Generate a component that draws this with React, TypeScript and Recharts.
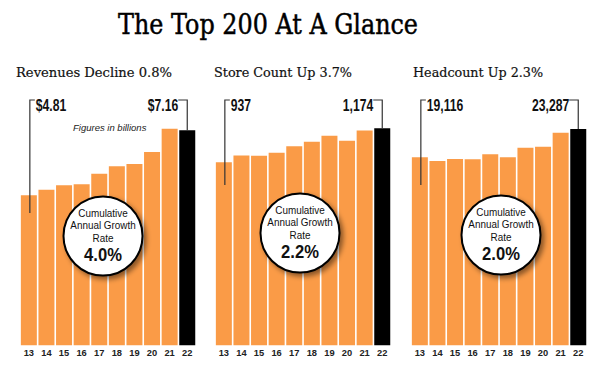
import { Bar, BarChart, Cell, LabelList, XAxis, YAxis } from "recharts";

const years = ["13", "14", "15", "16", "17", "18", "19", "20", "21", "22"];
const revenues = [4.81, 5.01, 5.17, 5.21, 5.59, 5.86, 5.94, 6.38, 7.22, 7.16];
const storeCounts = [937, 984, 982, 1003, 1049, 1080, 1122, 1087, 1158, 1174];
const headcounts = [19116, 18574, 18869, 18824, 19561, 19120, 20534, 20682, 22745, 23287];

const titles = ["Revenues Decline 0.8%", "Store Count Up 3.7%", "Headcount Up 2.3%"];
const growthRates = ["4.0%", "2.2%", "2.0%"];

const ORANGE = "#fa9b47";
const SANS = "'Liberation Sans', Arial, sans-serif";
const SLAB = "'DejaVu Serif', serif";
const CALLOUT_Y = 100;
const SQUEEZE = 0.76;

const panels = [
  {
    values: revenues,
    title: titles[0],
    rate: growthRates[0],
    fmt: (v: number) => "$" + v.toFixed(2),
    domain: [-0.62, 8.256],
    left: 20,
    leftDrop: 213,
    titleX: 16,
    titleW: 156,
    circle: [103, 236],
  },
  {
    values: storeCounts,
    title: titles[1],
    rate: growthRates[1],
    fmt: (v: number) => v.toLocaleString("en-US"),
    domain: [-340, 1371],
    left: 215,
    leftDrop: 185,
    titleX: 214,
    titleW: 138,
    circle: [300, 233],
  },
  {
    values: headcounts,
    title: titles[2],
    rate: growthRates[2],
    fmt: (v: number) => v.toLocaleString("en-US"),
    domain: [-8622, 27561],
    left: 411,
    leftDrop: 185,
    titleX: 413,
    titleW: 130,
    circle: [501, 235],
  },
];

function Callout(props: any, fmt: (v: number) => string, leftDrop: number) {
  const { x, y, width, index, value } = props;
  const cx = x + width / 2;
  const text = fmt(Number(value));
  const font = { fontFamily: SANS, fontWeight: 700, fontSize: 16, fill: "#111" };
  if (index === 0) {
    return (
      <g>
        <polyline
          points={`${cx + 1},${leftDrop} ${cx + 1},${CALLOUT_Y} ${cx + 6},${CALLOUT_Y}`}
          fill="none"
          stroke="#333"
          strokeWidth={1.2}
        />
        <text transform={`translate(${cx + 7},110.5) scale(${SQUEEZE},1)`} {...font}>
          {text}
        </text>
      </g>
    );
  }
  if (index === years.length - 1) {
    return (
      <g>
        <polyline
          points={`${cx - 9},${CALLOUT_Y} ${cx},${CALLOUT_Y} ${cx},${y}`}
          fill="none"
          stroke="#333"
          strokeWidth={1.2}
        />
        <text transform={`translate(${cx - 9},110.5) scale(${SQUEEZE},1)`} textAnchor="end" {...font}>
          {text}
        </text>
      </g>
    );
  }
  return null;
}

function Panel({ p }: { p: (typeof panels)[number] }) {
  const data = years.map((year, i) => ({ year, value: p.values[i] }));
  return (
    <div style={{ position: "absolute", left: p.left, top: 0 }}>
      <BarChart
        width={176}
        height={366}
        data={data}
        margin={{ top: 100, right: 0, bottom: 0, left: 0 }}
        barCategoryGap={0.85}
      >
        <XAxis
          dataKey="year"
          height={20.5}
          interval={0}
          tickLine={false}
          axisLine={false}
          tickSize={2}
          tickMargin={2.3}
          tick={{ fontSize: 9.3, fontWeight: 700, fill: "#222", fontFamily: SANS }}
        />
        <YAxis hide type="number" domain={p.domain} allowDataOverflow />
        <Bar dataKey={(d: any) => [p.domain[0], d.value]} isAnimationActive={false}>
          {data.map((_, i) => (
            <Cell key={i} fill={i === data.length - 1 ? "#000" : ORANGE} />
          ))}
          <LabelList dataKey="value" content={(props: any) => Callout(props, p.fmt, p.leftDrop)} />
        </Bar>
      </BarChart>
    </div>
  );
}

export default function App() {
  return (
    <div
      style={{
        position: "absolute",
        left: 0,
        top: 0,
        width: 600,
        height: 366,
        background: "#fff",
        overflow: "hidden",
      }}
    >
      {panels.map((p, i) => (
        <Panel key={i} p={p} />
      ))}
      <svg width={600} height={366} style={{ position: "absolute", left: 0, top: 0, pointerEvents: "none" }}>
        <defs>
          <filter id="shadow" x="-30%" y="-30%" width="160%" height="160%">
            <feDropShadow dx={3} dy={3} stdDeviation={2.5} floodColor="#000" floodOpacity={0.45} />
          </filter>
        </defs>
        <text
          x={118}
          y={34}
          fontFamily={SLAB}
          fontSize={28}
          fill="#000"
          stroke="#000"
          strokeWidth={0.5}
          textLength={300}
          lengthAdjust="spacingAndGlyphs"
        >
          The Top 200 At A Glance
        </text>
        {panels.map((p, i) => (
          <text
            key={i}
            x={p.titleX}
            y={76.5}
            fontFamily={SLAB}
            fontSize={13}
            fill="#111"
            stroke="#111"
            strokeWidth={0.2}
            textLength={p.titleW}
            lengthAdjust="spacingAndGlyphs"
          >
            {p.title}
          </text>
        ))}
        <text x={73} y={130.5} fontFamily={SANS} fontStyle="italic" fontSize={9.5} fill="#222">
          Figures in billions
        </text>
        {panels.map((p, i) => {
          const [cx, cy] = p.circle;
          return (
            <g key={i}>
              <circle cx={cx} cy={cy} r={39.5} fill="#fff" stroke="#000" strokeWidth={2} filter="url(#shadow)" />
              <g fontFamily={SANS} fill="#111" textAnchor="middle">
                <text transform={`translate(${cx},${cy - 19.5}) scale(0.84,1)`} fontSize={11.8}>
                  Cumulative
                </text>
                <text transform={`translate(${cx},${cy - 7}) scale(0.84,1)`} fontSize={11.8}>
                  Annual Growth
                </text>
                <text transform={`translate(${cx},${cy + 5.5}) scale(0.84,1)`} fontSize={11.8}>
                  Rate
                </text>
                <text transform={`translate(${cx},${cy + 25}) scale(0.95,1)`} fontSize={17.5} fontWeight={700}>
                  {p.rate}
                </text>
              </g>
            </g>
          );
        })}
      </svg>
    </div>
  );
}
